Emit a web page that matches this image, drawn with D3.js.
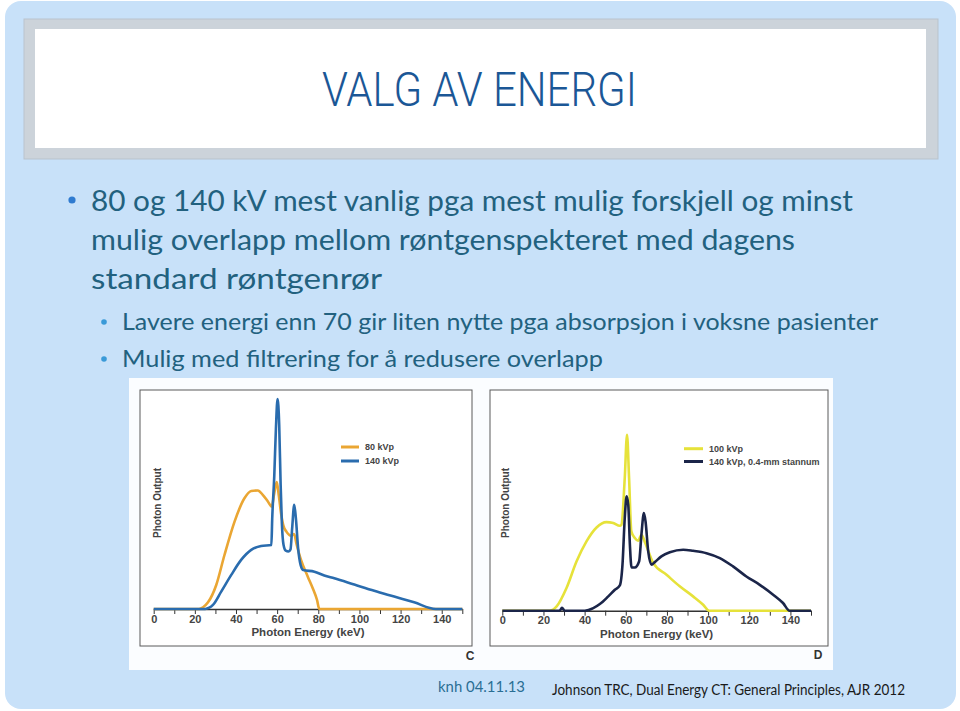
<!DOCTYPE html>
<html><head><meta charset="utf-8">
<script src="https://cdn.jsdelivr.net/npm/d3@7"></script>
<style>body{margin:0;background:#fff}svg{display:block}</style>
</head><body><svg id="c" width="960" height="711"></svg>
<script>
// ---------- data ----------
const titleText = "VALG AV ENERGI";
const mainBulletLines = [
  "80 og 140 kV mest vanlig pga mest mulig forskjell og minst",
  "mulig overlapp mellom røntgenspekteret med dagens",
  "standard røntgenrør"
];
const subBullets = [
  "Lavere energi enn 70 gir liten nytte pga absorpsjon i voksne pasienter",
  "Mulig med filtrering for å redusere overlapp"
];
const footerLeft = "knh 04.11.13";
const footerRight = "Johnson TRC, Dual Energy CT: General Principles, AJR 2012";
const energyTicks = d3.range(0, 151, 10);
const energyLabels = [0, 20, 40, 60, 80, 100, 120, 140];
const xAxisTitle = "Photon Energy (keV)";
const yAxisTitle = "Photon Output";

// Panel C: [keV, relative photon output]
const c80kVp = [[0,0],[22,0],[24,0.8],[26.4,3.1],[30.4,11.2],[34.4,25.2],[39.3,40.8],[44.1,51.7],[47.4,55.1],[50.6,55.3],[53,53.3],[55.5,50.2],[57.4,47.8],[58.6,54],[59.8,59.2],[60.8,53],[62,44],[63,39],[64.5,36.1],[66.8,34.2],[68.2,35],[69.5,30],[71.6,22.9],[74.9,15.1],[77.3,9.7],[79.4,4.2],[80.5,0],[150,0]];
const c140kVp = [[0,0],[25,0],[27,0.6],[28.8,1.9],[32.8,8.1],[37.7,15.9],[42.5,22.9],[47.4,27.6],[52.2,29.4],[57.2,29.9],[57.6,42],[58.6,62],[59.4,84],[60.2,98],[61,86],[61.7,58],[62.3,40],[63.1,30],[64.2,27.2],[65.5,26.8],[66.5,27.8],[67.3,37.7],[68.3,48.6],[69.1,42.4],[70.2,28.3],[71.4,20.6],[72.7,18.2],[78.1,17.4],[82.9,15.6],[87.8,14.3],[97.5,11.4],[107.2,8.5],[116.9,5.8],[126.6,3.1],[137.1,0],[150,0]];
// Panel D
const d100kVp = [[0,0],[23.1,0],[26.4,2],[31.2,10.6],[36.1,23.1],[40.9,32.4],[45.8,38.9],[50.6,41.4],[53.9,41],[57.1,39.7],[57.9,40.2],[59.5,62],[60.6,82.2],[61.6,62],[62.7,37.1],[64.4,34],[66,32.7],[67.6,35.5],[69.3,32],[73.3,22.3],[79.8,16.8],[86.2,11.4],[92.7,6.7],[97.6,2.8],[100.5,0],[150,0]];
const d140kVpSn = [[0,0],[27.8,0],[29,1.3],[30.3,0],[40.1,0],[44.2,1.2],[47.4,3.1],[51.5,6.7],[54.7,9.8],[57.1,11.8],[58.4,21.5],[59.5,43.3],[60.4,53.4],[61.2,49.5],[62,30.8],[62.8,20.2],[64.4,20.2],[66.5,23.1],[67.6,35.5],[68.8,45.6],[69.6,41.7],[70.9,27.7],[72.5,21.5],[74.1,22.7],[77.3,25.4],[81.4,27.3],[87.9,28.5],[92.7,28],[99.2,26.9],[105.7,24.6],[112.1,20.7],[118.6,16],[125.1,12.1],[131.6,7.5],[136.4,3.6],[139.6,0],[150,0]];

const panels = [
  {letter:"C", frame:[140,390,472,646], x0:153.7, x1:462.3, y0:609, y1:394.7,
   series:[{name:"80 kVp", data:c80kVp, color:"#eaa633"},{name:"140 kVp", data:c140kVp, color:"#2a6cae"}],
   legend:[341,359,365,447,461], ylab:[157,503], letterPos:[470,660]},
  {letter:"D", frame:[490,390,828,646], x0:502.3, x1:811, y0:610.7, y1:396.7,
   series:[{name:"100 kVp", data:d100kVp, color:"#e6e23a"},{name:"140 kVp, 0.4-mm stannum", data:d140kVpSn, color:"#1b2549"}],
   legend:[684,703,709,448.7,461.5], ylab:[505,503], letterPos:[818,659]}
];

// ---------- drawing ----------
const svg = d3.select("#c");
svg.append("rect").attr("x",0).attr("y",0).attr("width",960).attr("height",711).attr("fill","#ffffff");
svg.append("rect").attr("x",5).attr("y",1).attr("width",951).attr("height",708).attr("rx",16).attr("fill","#c8e1f9");
// title box
svg.append("rect").attr("x",24).attr("y",19).attr("width",914).attr("height",140).attr("fill","#ccd3da").attr("stroke","#b9c3cd").attr("stroke-width",1);
svg.append("rect").attr("x",35).attr("y",29).attr("width",891).attr("height",119).attr("fill","#ffffff");
svg.append("text").attr("x",322).attr("y",106).attr("textLength",315).attr("lengthAdjust","spacingAndGlyphs")
  .attr("font-family","Roboto,'Liberation Sans Narrow',sans-serif").attr("font-weight",300).attr("font-size",48).attr("fill","#1b5796").text(titleText);

// bullets
const bodyFont = "Lato,'Open Sans',sans-serif";
const bodyColor = "#22617f";
const mainW = [762, 704, 291];
const mainY = [211, 250, 289];
svg.append("circle").attr("cx",72).attr("cy",200).attr("r",3.6).attr("fill","#2f7bd0");
mainBulletLines.forEach((t,i)=>{
  svg.append("text").attr("x",91).attr("y",mainY[i]).attr("textLength",mainW[i]).attr("lengthAdjust","spacingAndGlyphs")
    .attr("font-family",bodyFont).attr("font-weight",400).attr("font-size",28).attr("fill",bodyColor).text(t);
});
const subW = [756, 481];
const subY = [330, 367];
subBullets.forEach((t,i)=>{
  svg.append("circle").attr("cx",104).attr("cy",subY[i]-8).attr("r",2.8).attr("fill","#3a9ad8");
  svg.append("text").attr("x",122).attr("y",subY[i]).attr("textLength",subW[i]).attr("lengthAdjust","spacingAndGlyphs")
    .attr("font-family",bodyFont).attr("font-weight",400).attr("font-size",24).attr("fill",bodyColor).text(t);
});

// image panel
svg.append("rect").attr("x",129).attr("y",378).attr("width",704).attr("height",292).attr("fill","#fbfdff");

const chartFont = "'Liberation Sans',Arial,sans-serif";
panels.forEach(p=>{
  const g = svg.append("g");
  g.append("rect").attr("x",p.frame[0]).attr("y",p.frame[1]).attr("width",p.frame[2]-p.frame[0]).attr("height",p.frame[3]-p.frame[1])
    .attr("fill","#ffffff").attr("stroke","#5a5a5a").attr("stroke-width",1);
  const x = d3.scaleLinear().domain([0,150]).range([p.x0,p.x1]);
  const y = d3.scaleLinear().domain([0,100]).range([p.y0,p.y1]);
  const axis = d3.axisBottom(x).tickValues(energyTicks).tickSize(5).tickSizeOuter(0)
    .tickFormat(d=> energyLabels.includes(d) ? d : "");
  const ag = g.append("g").attr("transform",`translate(0,${p.y0})`).call(axis);
  ag.select(".domain").attr("stroke","#333").attr("stroke-width",1.5);
  ag.selectAll(".tick line").attr("stroke","#333").attr("stroke-width",1);
  ag.selectAll(".tick text").attr("font-family",chartFont).attr("font-weight","bold").attr("font-size",11).attr("fill","#444").attr("dy","0.5em");
  g.append("text").attr("x",(p.x0+p.x1)/2).attr("y",p.y0+27).attr("text-anchor","middle")
    .attr("font-family",chartFont).attr("font-weight","bold").attr("font-size",11.5).attr("fill","#444").text(xAxisTitle);
  g.append("text").attr("transform",`translate(${p.ylab[0]+4},${p.ylab[1]}) rotate(-90)`).attr("text-anchor","middle")
    .attr("font-family",chartFont).attr("font-weight","bold").attr("font-size",10).attr("fill","#444").text(yAxisTitle);
  const line = d3.line().x(d=>x(d[0])).y(d=>y(d[1])).curve(d3.curveMonotoneX);
  p.series.forEach((s,i)=>{
    g.append("path").attr("d",line(s.data)).attr("fill","none").attr("stroke",s.color).attr("stroke-width",2.6).attr("stroke-linejoin","round");
    const ly = p.legend[3+i];
    g.append("line").attr("x1",p.legend[0]).attr("x2",p.legend[1]).attr("y1",ly).attr("y2",ly).attr("stroke",s.color).attr("stroke-width",3);
    g.append("text").attr("x",p.legend[2]).attr("y",ly+3.3).attr("font-family",chartFont).attr("font-weight","bold")
      .attr("font-size",9).attr("fill","#444").text(s.name);
  });
  g.append("text").attr("x",p.letterPos[0]).attr("y",p.letterPos[1]).attr("text-anchor","middle")
    .attr("font-family",chartFont).attr("font-weight","bold").attr("font-size",12).attr("fill","#333").text(p.letter);
});

// footer
svg.append("text").attr("x",438).attr("y",692).attr("textLength",87).attr("lengthAdjust","spacingAndGlyphs")
  .attr("font-family",bodyFont).attr("font-size",15).attr("fill","#2a6e94").text(footerLeft);
svg.append("text").attr("x",552).attr("y",695).attr("textLength",353).attr("lengthAdjust","spacingAndGlyphs")
  .attr("font-family",bodyFont).attr("font-size",14.5).attr("fill","#1a1a1a").text(footerRight);
</script></body></html>
